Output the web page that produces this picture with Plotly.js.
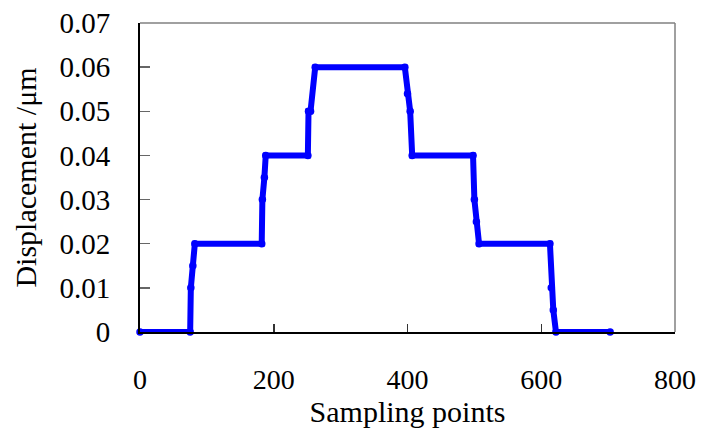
<!DOCTYPE html>
<html>
<head>
<meta charset="utf-8">
<script src="https://cdn.plot.ly/plotly-3.0.1.min.js"></script>
<style>html,body{margin:0;padding:0;background:#fff;}#chart{width:701px;height:435px;}</style>
</head>
<body>
<div id="chart"></div>
<script>
// Sampling points (x) and displacement values (µm)
const samplingPoints = [0, 75, 76, 79, 82, 182, 183, 186, 188, 251, 252, 255, 262, 396, 400, 404, 407, 498, 500, 503, 507, 613, 615, 618, 622, 703];
const displacement = [0, 0, 0.01, 0.015, 0.02, 0.02, 0.03, 0.035, 0.04, 0.04, 0.05, 0.05, 0.06, 0.06, 0.054, 0.05, 0.04, 0.04, 0.03, 0.025, 0.02, 0.02, 0.01, 0.005, 0, 0];
const xTicks = [0, 200, 400, 600, 800];
const yTicks = [0, 0.01, 0.02, 0.03, 0.04, 0.05, 0.06, 0.07];

const font = {family: '"Liberation Serif", "Times New Roman", serif', color: '#000'};

const trace = {
  x: samplingPoints,
  y: displacement,
  mode: 'lines+markers',
  line: {color: '#0000FF', width: 6},
  marker: {color: '#0000FF', size: 7.5},
  cliponaxis: false,
  hoverinfo: 'skip'
};

const layout = {
  width: 701,
  height: 435,
  margin: {l: 140, r: 26, t: 23, b: 103},
  paper_bgcolor: '#fff',
  plot_bgcolor: '#fff',
  showlegend: false,
  font: font,
  xaxis: {
    range: [0, 800],
    tickvals: xTicks,
    ticktext: xTicks.map(String),
    ticks: 'inside',
    ticklen: 8,
    tickwidth: 1.5,
    tickcolor: '#333',
    showgrid: false,
    zeroline: false,
    showline: true,
    linecolor: '#000',
    linewidth: 1.5,
    ticklabelstandoff: 22,
    tickfont: {family: font.family, size: 28, color: '#000'},
    title: {text: 'Sampling points', font: {family: font.family, size: 30, color: '#000'}, standoff: 2}
  },
  yaxis: {
    range: [0, 0.07],
    tickvals: yTicks,
    ticktext: yTicks.map(v => v === 0 ? '0' : v.toFixed(2)),
    ticks: 'inside',
    ticklen: 10,
    tickwidth: 1.5,
    tickcolor: '#666',
    showgrid: false,
    zeroline: false,
    showline: true,
    linecolor: '#000',
    linewidth: 2,
    ticklabelstandoff: 22,
    tickfont: {family: font.family, size: 29, color: '#000'},
    title: {text: 'Displacement /μm', font: {family: font.family, size: 30, color: '#000'}, standoff: 14}
  },
  shapes: [
    {type: 'line', xref: 'paper', yref: 'paper', x0: 0, x1: 1, y0: 1, y1: 1, line: {color: '#808080', width: 1.5}},
    {type: 'line', xref: 'paper', yref: 'paper', x0: 1, x1: 1, y0: 0, y1: 1, line: {color: '#808080', width: 1.5}}
  ]
};

Plotly.newPlot('chart', [trace], layout, {staticPlot: true, displayModeBar: false});
</script>
</body>
</html>
